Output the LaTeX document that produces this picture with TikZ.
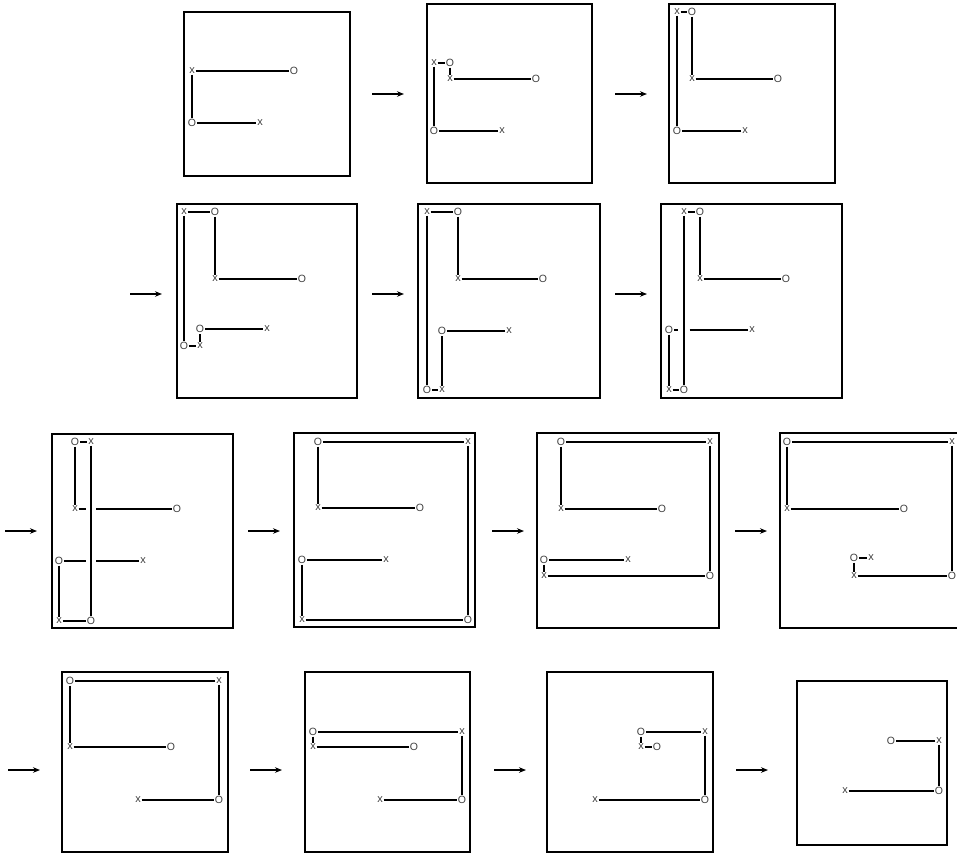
\documentclass[tikz,border=0pt]{standalone}
\usepackage{fontspec}
\newfontfamily\mkfont{Liberation Sans}
\usetikzlibrary{arrows.meta}
\tikzset{
  panel/.style={draw=black, line width=1.2pt},
  seg/.style={draw=black, line width=1.5pt},
  xm/.style={inner sep=0.6pt, font=\mkfont\fontsize{11}{11}\selectfont, text=black!75},
  om/.style={inner sep=0.6pt, font=\mkfont\fontsize{10.5}{10.5}\selectfont, text=black!75},
  arr/.style={draw=black, line width=1.3pt, -{Stealth[length=7pt,width=5.5pt]}}
}
\newcommand\mkx[2]{\node[xm] (#1) at (#2) {x};}
\newcommand\mko[2]{\node[om] (#1) at (#2) {O};}
\begin{document}
\begin{tikzpicture}[x=1pt,y=-1pt]
\useasboundingbox (0,0) rectangle (957,854);
% ---------- Panel 1
\draw[panel] (184,12) rectangle (350,176);
\mkx{p1a}{192,71}\mko{p1b}{294,71}\mko{p1c}{192,123}\mkx{p1d}{260,123}
\draw[seg] (p1a)--(p1b); \draw[seg] (p1a)--(p1c); \draw[seg] (p1c)--(p1d);
% ---------- Panel 2
\draw[panel] (427,4) rectangle (592,183);
\mkx{p2a}{434,63}\mko{p2b}{450,63}\mkx{p2c}{450,79}\mko{p2d}{536,79}\mko{p2e}{434,131}\mkx{p2f}{502,131}
\draw[seg] (p2a)--(p2b); \draw[seg] (p2b)--(p2c); \draw[seg] (p2c)--(p2d);
\draw[seg] (p2a)--(p2e); \draw[seg] (p2e)--(p2f);
% ---------- Panel 3
\draw[panel] (669,4) rectangle (835,183);
\mkx{p3a}{677,12}\mko{p3b}{692,12}\mkx{p3c}{692,79}\mko{p3d}{778,79}\mko{p3e}{677,131}\mkx{p3f}{745,131}
\draw[seg] (p3a)--(p3b); \draw[seg] (p3b)--(p3c); \draw[seg] (p3c)--(p3d);
\draw[seg] (p3a)--(p3e); \draw[seg] (p3e)--(p3f);
% ---------- Panel 4
\draw[panel] (177,204) rectangle (357,398);
\mkx{p4a}{184,212}\mko{p4b}{215,212}\mkx{p4c}{215,279}\mko{p4d}{302,279}
\mko{p4e}{200,329}\mkx{p4f}{267,329}\mko{p4g}{184,346}\mkx{p4h}{200,346}
\draw[seg] (p4a)--(p4b); \draw[seg] (p4b)--(p4c); \draw[seg] (p4c)--(p4d);
\draw[seg] (p4a)--(p4g); \draw[seg] (p4g)--(p4h); \draw[seg] (p4h)--(p4e); \draw[seg] (p4e)--(p4f);
% ---------- Panel 5
\draw[panel] (418,204) rectangle (600,398);
\mkx{p5a}{427,212}\mko{p5b}{458,212}\mkx{p5c}{458,279}\mko{p5d}{543,279}
\mko{p5e}{442,331}\mkx{p5f}{509,331}\mko{p5g}{427,390}\mkx{p5h}{442,390}
\draw[seg] (p5a)--(p5b); \draw[seg] (p5b)--(p5c); \draw[seg] (p5c)--(p5d);
\draw[seg] (p5a)--(p5g); \draw[seg] (p5g)--(p5h); \draw[seg] (p5h)--(p5e); \draw[seg] (p5e)--(p5f);
% ---------- Panel 6
\draw[panel] (661,204) rectangle (842,398);
\mkx{p6a}{684,212}\mko{p6b}{700,212}\mkx{p6c}{700,279}\mko{p6d}{786,279}
\mko{p6e}{669,330}\mkx{p6f}{752,330}\mkx{p6g}{669,390}\mko{p6h}{684,390}
\coordinate (p6gl) at (677.5,330); \coordinate (p6gr) at (689.5,330);
\draw[seg] (p6a)--(p6b); \draw[seg] (p6b)--(p6c); \draw[seg] (p6c)--(p6d);
\draw[seg] (p6a)--(p6h); \draw[seg] (p6g)--(p6h); \draw[seg] (p6e)--(p6g);
\draw[seg] (p6e)--(p6gl); \draw[seg] (p6gr)--(p6f);
% ---------- Panel 7
\draw[panel] (52,434) rectangle (233,628);
\mko{p7a}{75,442}\mkx{p7b}{91,442}\mkx{p7c}{75,509}\mko{p7d}{177,509}
\mko{p7e}{59,561}\mkx{p7f}{143,561}\mkx{p7g}{59,621}\mko{p7h}{91,621}
\coordinate (p7c1) at (86,509); \coordinate (p7c2) at (96,509);
\coordinate (p7e1) at (86,561); \coordinate (p7e2) at (96,561);
\draw[seg] (p7a)--(p7b); \draw[seg] (p7a)--(p7c);
\draw[seg] (p7c)--(p7c1); \draw[seg] (p7c2)--(p7d);
\draw[seg] (p7b)--(p7h);
\draw[seg] (p7e)--(p7e1); \draw[seg] (p7e2)--(p7f);
\draw[seg] (p7e)--(p7g); \draw[seg] (p7g)--(p7h);
% ---------- Panel 8
\draw[panel] (294,433) rectangle (475,627);
\mko{p8a}{318,442}\mkx{p8b}{468,442}\mkx{p8c}{318,508}\mko{p8d}{420,508}
\mko{p8e}{302,560}\mkx{p8f}{386,560}\mkx{p8g}{302,620}\mko{p8h}{468,620}
\draw[seg] (p8a)--(p8b); \draw[seg] (p8a)--(p8c); \draw[seg] (p8c)--(p8d); \draw[seg] (p8b)--(p8h);
\draw[seg] (p8e)--(p8f); \draw[seg] (p8e)--(p8g); \draw[seg] (p8g)--(p8h);
% ---------- Panel 9
\draw[panel] (537,433) rectangle (719,628);
\mko{p9a}{561,442}\mkx{p9b}{710,442}\mkx{p9c}{561,509}\mko{p9d}{662,509}
\mko{p9e}{544,560}\mkx{p9f}{628,560}\mkx{p9g}{544,576}\mko{p9h}{710,576}
\draw[seg] (p9a)--(p9b); \draw[seg] (p9a)--(p9c); \draw[seg] (p9c)--(p9d); \draw[seg] (p9b)--(p9h);
\draw[seg] (p9e)--(p9f); \draw[seg] (p9e)--(p9g); \draw[seg] (p9g)--(p9h);
% ---------- Panel 10
\draw[panel] (780,433) rectangle (962,628);
\mko{p10a}{787,442}\mkx{p10b}{952,442}\mkx{p10c}{787,509}\mko{p10d}{904,509}
\mko{p10e}{854,558}\mkx{p10f}{871,558}\mkx{p10g}{854,576}\mko{p10h}{952,576}
\draw[seg] (p10a)--(p10b); \draw[seg] (p10a)--(p10c); \draw[seg] (p10c)--(p10d); \draw[seg] (p10b)--(p10h);
\draw[seg] (p10e)--(p10f); \draw[seg] (p10e)--(p10g); \draw[seg] (p10g)--(p10h);
% ---------- Panel 11
\draw[panel] (62,672) rectangle (228,852);
\mko{p11a}{70,681}\mkx{p11b}{219,681}\mkx{p11c}{70,747}\mko{p11d}{171,747}\mkx{p11e}{138,800}\mko{p11f}{219,800}
\draw[seg] (p11a)--(p11b); \draw[seg] (p11a)--(p11c); \draw[seg] (p11c)--(p11d);
\draw[seg] (p11b)--(p11f); \draw[seg] (p11e)--(p11f);
% ---------- Panel 12
\draw[panel] (305,672) rectangle (470,852);
\mko{p12a}{313,732}\mkx{p12b}{462,732}\mkx{p12c}{313,747}\mko{p12d}{414,747}\mkx{p12e}{380,800}\mko{p12f}{462,800}
\draw[seg] (p12a)--(p12b); \draw[seg] (p12a)--(p12c); \draw[seg] (p12c)--(p12d);
\draw[seg] (p12b)--(p12f); \draw[seg] (p12e)--(p12f);
% ---------- Panel 13
\draw[panel] (547,672) rectangle (713,852);
\mko{p13a}{641,732}\mkx{p13b}{705,732}\mkx{p13c}{641,747}\mko{p13d}{657,747}\mkx{p13e}{595,800}\mko{p13f}{705,800}
\draw[seg] (p13a)--(p13b); \draw[seg] (p13a)--(p13c); \draw[seg] (p13c)--(p13d);
\draw[seg] (p13b)--(p13f); \draw[seg] (p13e)--(p13f);
% ---------- Panel 14
\draw[panel] (797,681) rectangle (947,845);
\mko{p14a}{891,741}\mkx{p14b}{939,741}\mkx{p14e}{845,791}\mko{p14f}{939,791}
\draw[seg] (p14a)--(p14b); \draw[seg] (p14b)--(p14f); \draw[seg] (p14e)--(p14f);
% ---------- Arrows
\coordinate (a1s) at (372,94);  \coordinate (a1e) at (404,94);
\coordinate (a2s) at (615,94);  \coordinate (a2e) at (647,94);
\coordinate (a3s) at (130,294); \coordinate (a3e) at (162,294);
\coordinate (a4s) at (372,294); \coordinate (a4e) at (404,294);
\coordinate (a5s) at (615,294); \coordinate (a5e) at (647,294);
\coordinate (a6s) at (5,531);   \coordinate (a6e) at (37,531);
\coordinate (a7s) at (248,531); \coordinate (a7e) at (280,531);
\coordinate (a8s) at (492,531); \coordinate (a8e) at (524,531);
\coordinate (a9s) at (735,531); \coordinate (a9e) at (767,531);
\coordinate (a10s) at (8,770);   \coordinate (a10e) at (40,770);
\coordinate (a11s) at (250,770); \coordinate (a11e) at (282,770);
\coordinate (a12s) at (494,770); \coordinate (a12e) at (526,770);
\coordinate (a13s) at (736,770); \coordinate (a13e) at (768,770);
\foreach \i in {1,...,13} { \draw[arr] (a\i s) -- (a\i e); }
\end{tikzpicture}
\end{document}
